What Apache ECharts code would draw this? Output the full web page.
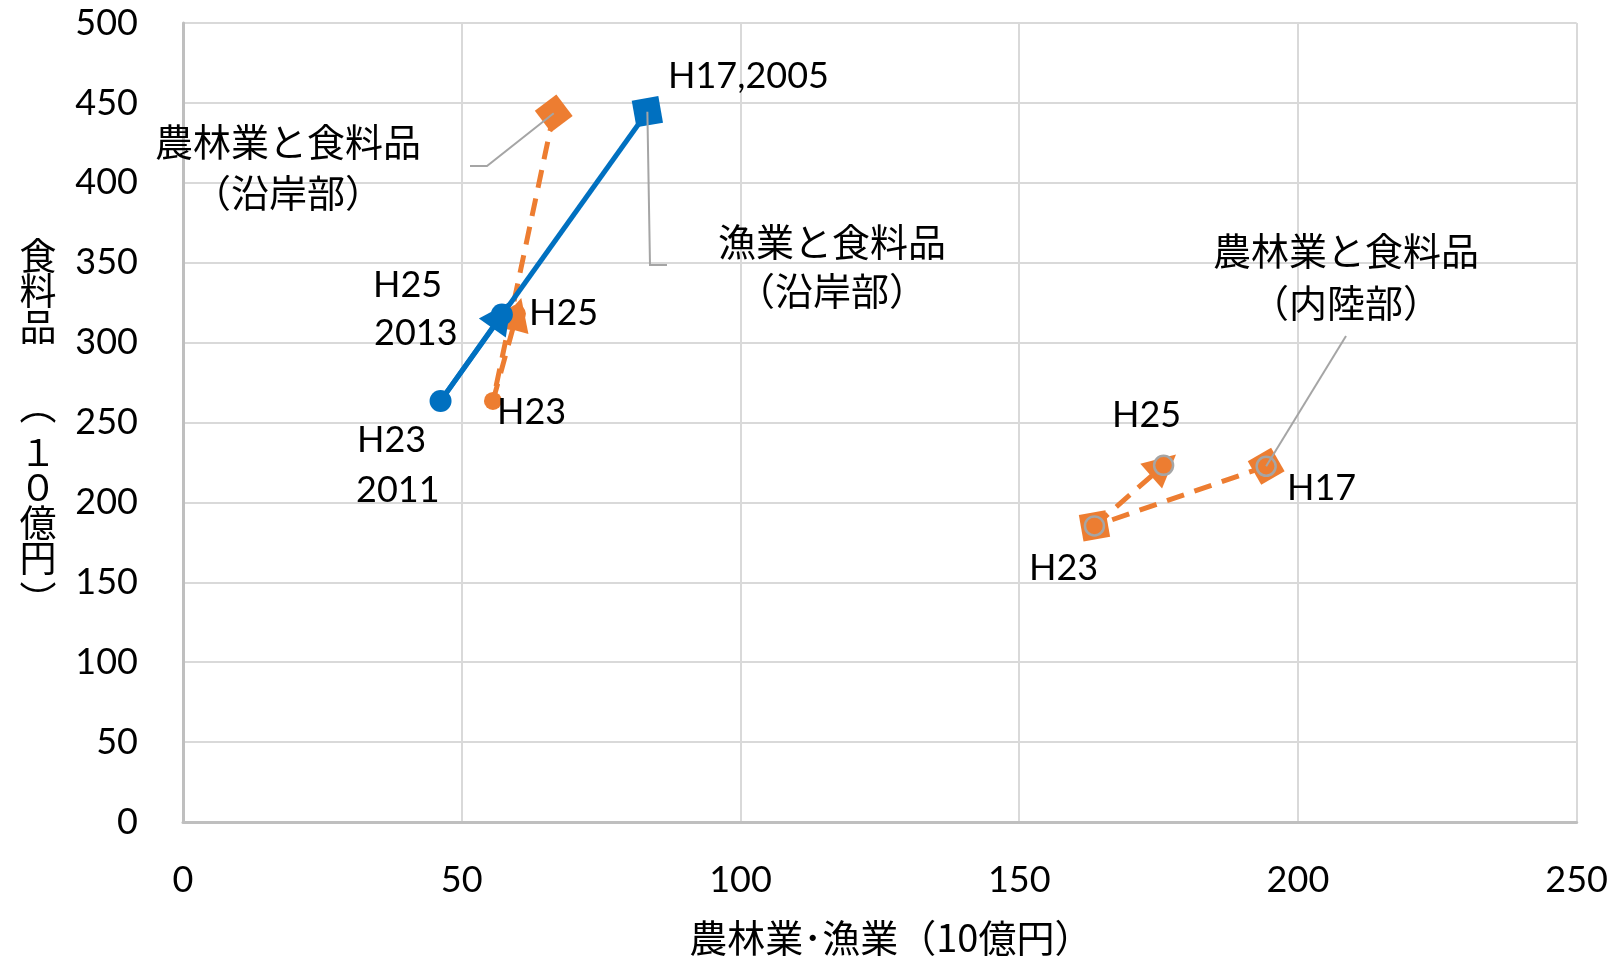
<!DOCTYPE html>
<html>
<head>
<meta charset="utf-8">
<script src="https://cdn.jsdelivr.net/npm/echarts@6/dist/echarts.min.js"></script>
<style>
  html, body { margin: 0; padding: 0; background: #fff; }
  #main { width: 1611px; height: 962px; }
</style>
</head>
<body>
<div id="main"></div>
<script>
// 年次 (H17=2005, H23=2011, H25=2013)
const years = ['H17', 'H23', 'H25'];

// 漁業と食料品（沿岸部）
const fishCoastX = [83.3, 46.2, 57.2];
const fishCoastY = [444.5, 263.5, 317.6];
// 農林業と食料品（沿岸部）
const agriCoastX = [66.5, 55.6, 59.9];
const agriCoastY = [443.5, 263.5, 318.0];
// 農林業と食料品（内陸部）
const agriInlandX = [194.3, 163.5, 175.9];
const agriInlandY = [222.6, 185.3, 223.2];

const xTicks = [0, 50, 100, 150, 200, 250];
const yTicks = [0, 50, 100, 150, 200, 250, 300, 350, 400, 450, 500];

const BLUE = '#0070C0';
const ORANGE = '#ED7D31';
const GREY = '#A5A5A5';
const LATIN = 'Lato, "Noto Sans CJK JP", sans-serif';
const CJK = '"Noto Sans CJK JP", sans-serif';

const pts = (xs, ys) => xs.map((x, i) => [x, ys[i]]);

// 点の形（H17, H23, H25 の順）
const markerItems = (xs, ys, shapes) => xs.map((x, i) => ({
  name: years[i],
  value: [x, ys[i]],
  symbol: shapes[i].symbol,
  symbolSize: shapes[i].size,
  symbolRotate: shapes[i].rotate || 0
}));

// H17→H23 の線 と H23→H25 の矢印
const pathSeries = (xs, ys, color, type, width) => {
  const p = pts(xs, ys);
  const lineStyle = { color: color, width: width, type: type, opacity: 1, curveness: 0 };
  return [
    {
      type: 'lines',
      coordinateSystem: 'cartesian2d',
      symbol: 'none',
      lineStyle: lineStyle,
      data: [{ coords: [p[0], p[1]] }]
    },
    {
      type: 'lines',
      coordinateSystem: 'cartesian2d',
      symbol: ['none', 'triangle'],
      symbolSize: 33,
      lineStyle: lineStyle,
      data: [{ coords: [p[1], p[2]] }]
    }
  ];
};

const chart = echarts.init(document.getElementById('main'));

const option = {
  animation: false,
  backgroundColor: '#fff',
  grid: { left: 183, right: 34, top: 23, bottom: 137 },
  xAxis: {
    type: 'value',
    min: xTicks[0],
    max: xTicks[xTicks.length - 1],
    interval: 50,
    name: '農林業･漁業（10億円）',
    nameLocation: 'middle',
    nameGap: 97,
    nameTextStyle: { fontFamily: CJK, fontSize: 38, color: '#000', padding: [0, 0, 0, 22] },
    axisLine: { show: true, lineStyle: { color: '#BFBFBF', width: 3 } },
    axisTick: { show: false },
    axisLabel: { margin: 40, fontFamily: LATIN, fontSize: 36, color: '#000' },
    splitLine: { show: true, lineStyle: { color: '#D9D9D9', width: 2 } }
  },
  yAxis: {
    type: 'value',
    min: yTicks[0],
    max: yTicks[yTicks.length - 1],
    interval: 50,
    axisLine: { show: true, lineStyle: { color: '#BFBFBF', width: 3 } },
    axisTick: { show: false },
    axisLabel: { margin: 45, fontFamily: LATIN, fontSize: 36, color: '#000' },
    splitLine: { show: true, lineStyle: { color: '#D9D9D9', width: 2 } }
  },
  series: [
    // 農林業（沿岸部）
    ...pathSeries(agriCoastX, agriCoastY, ORANGE, [18, 11], 5),
    {
      type: 'scatter',
      itemStyle: { color: ORANGE, opacity: 1 },
      data: markerItems(agriCoastX, agriCoastY, [
        { symbol: 'rect', size: 27, rotate: 37 },
        { symbol: 'circle', size: 18 },
        { symbol: 'circle', size: 18 }
      ])
    },
    // 農林業（内陸部）
    ...pathSeries(agriInlandX, agriInlandY, ORANGE, [18, 11], 5),
    {
      type: 'scatter',
      itemStyle: { color: ORANGE, opacity: 1 },
      data: markerItems(agriInlandX.slice(0, 2), agriInlandY.slice(0, 2), [
        { symbol: 'rect', size: 27, rotate: 30 },
        { symbol: 'rect', size: 27, rotate: 10 }
      ])
    },
    {
      type: 'scatter',
      symbolSize: 19,
      itemStyle: { color: ORANGE, borderColor: GREY, borderWidth: 2.5, opacity: 1 },
      data: pts(agriInlandX, agriInlandY)
    },
    // 漁業（沿岸部）
    ...pathSeries(fishCoastX, fishCoastY, BLUE, 'solid', 5),
    {
      type: 'scatter',
      itemStyle: { color: BLUE, opacity: 1 },
      data: markerItems(fishCoastX, fishCoastY, [
        { symbol: 'rect', size: 27, rotate: 10 },
        { symbol: 'circle', size: 22 },
        { symbol: 'circle', size: 22 }
      ])
    }
  ]
};

chart.setOption(option);

// ラベルと引き出し線
const px = (x, y) => chart.convertToPixel({ gridIndex: 0 }, [x, y]);
const text = (t, x, y, opts) => ({
  type: 'text',
  x: x,
  y: y,
  z: 100,
  style: Object.assign({
    text: t,
    fill: '#000',
    font: '36px ' + LATIN,
    align: 'left',
    verticalAlign: 'middle'
  }, opts || {})
});
const cjk = (t, x, y) => text(t, x, y, { font: '38px ' + CJK, align: 'center' });
const vert = (t, x, y) => text(t, x, y, {
  font: '37px ' + CJK, align: 'center', verticalAlign: 'top', lineHeight: 35.5
});
const leader = (points) => ({
  type: 'polyline',
  z: 90,
  shape: { points: points },
  style: { stroke: GREY, lineWidth: 2, fill: null }
});

const pFishH17 = px(fishCoastX[0], fishCoastY[0]);
const pAgriH17 = px(agriCoastX[0], agriCoastY[0]);
const pInlandH17 = px(agriInlandX[0], agriInlandY[0]);

chart.setOption({
  graphic: [
    leader([[470, 166], [487, 166], pAgriH17]),
    leader([pFishH17, [650, 265], [667, 265]]),
    leader([[1346, 336], pInlandH17]),

    text('H17,2005', 668, 76),
    cjk('農林業と食料品', 288, 142),
    cjk('（沿岸部）', 288, 193),
    cjk('漁業と食料品', 832, 242),
    cjk('（沿岸部）', 832, 291),
    cjk('農林業と食料品', 1346, 251),
    cjk('（内陸部）', 1346, 303),

    text('H25', 373, 285),
    text('2013', 374, 333),
    text('H23', 357, 440),
    text('2011', 356, 490),
    text('H25', 529, 313),
    text('H23', 497, 412),
    text('H25', 1112, 415),
    text('H17', 1287, 488),
    text('H23', 1029, 568),

    // 縦書きの軸タイトル「食料品（10億円）」
    vert('食\n料\n品', 38, 238),
    vert('︵', 38, 388),
    vert('１\n０\n億\n円', 38, 434),
    vert('︶', 38, 582)
  ]
});
</script>
</body>
</html>
